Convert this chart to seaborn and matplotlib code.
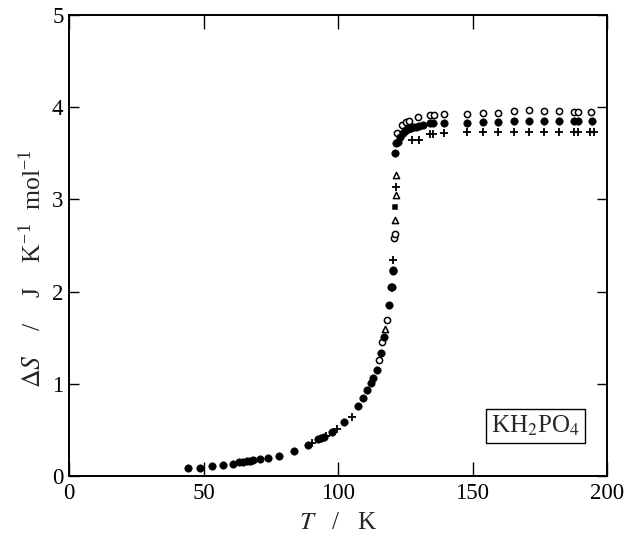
import matplotlib
matplotlib.use("Agg")
import matplotlib.pyplot as plt
import seaborn as sns
import pandas as pd

# ---------------------------------------------------------------------------
# data (T in K, dS in J K-1 mol-1)

T_filled = [44.1, 48.7, 53.3, 57.1, 60.8, 63.3, 64.8, 66.0, 67.2, 68.3, 71.0,
            74.1, 78.0, 83.8, 88.7, 92.5, 93.6, 94.8, 97.6, 102.3, 107.5,
            109.4, 110.9, 112.3, 113.1, 114.4, 115.9, 117.1, 119.1, 119.7,
            120.0, 120.3, 120.6, 121.2, 121.6, 122.3, 123.0, 124.0, 125.0,
            126.0, 127.0, 128.0, 129.0, 130.0, 131.5, 134.2, 135.4, 139.4,
            147.8, 153.8, 159.6, 165.4, 171.1, 176.6, 182.3, 187.7, 189.3,
            194.5]
S_filled = [0.09, 0.09, 0.11, 0.12, 0.13, 0.15, 0.155, 0.16, 0.165, 0.17, 0.18,
            0.20, 0.22, 0.27, 0.34, 0.40, 0.41, 0.42, 0.48, 0.59, 0.76,
            0.85, 0.93, 1.01, 1.06, 1.15, 1.33, 1.51, 1.85, 2.05,
            2.05, 2.23, 2.22, 3.50, 3.61, 3.62, 3.68, 3.72, 3.74,
            3.76, 3.77, 3.78, 3.79, 3.80, 3.81, 3.83, 3.83, 3.83,
            3.83, 3.84, 3.84, 3.85, 3.85, 3.85, 3.85, 3.85, 3.85,
            3.85]

T_open = [115.2, 116.4, 118.3, 120.8, 121.0, 122.1, 123.7, 125.3, 126.5,
          129.9, 134.2, 135.7, 139.5, 147.8, 153.8, 159.6, 165.4, 171.1,
          176.6, 182.3, 187.7, 189.3, 194.2]
S_open = [1.26, 1.45, 1.69, 2.58, 2.62, 3.72, 3.81, 3.84, 3.85,
          3.89, 3.92, 3.92, 3.93, 3.93, 3.94, 3.94, 3.96, 3.97,
          3.96, 3.96, 3.95, 3.95, 3.95]

T_plus = [90.2, 95.5, 99.7, 105.1, 120.6, 121.6, 127.6, 130.1, 134.2, 135.4,
          139.4, 147.8, 153.8, 159.6, 165.4, 171.1, 176.6, 182.3, 187.7,
          189.3, 193.7, 195.3]
S_plus = [0.36, 0.43, 0.51, 0.64, 2.34, 3.13, 3.64, 3.64, 3.71, 3.71,
          3.72, 3.73, 3.73, 3.73, 3.73, 3.73, 3.73, 3.73, 3.73,
          3.73, 3.73, 3.73]

T_tri = [117.6, 121.2, 121.6, 121.6]
S_tri = [1.59, 2.78, 3.05, 3.26]

T_square = [121.2]
S_square = [2.92]

x_ticks = [0, 50, 100, 150, 200]
y_ticks = [0, 1, 2, 3, 4, 5]

# ---------------------------------------------------------------------------

sns.set_style("ticks")
plt.rcParams['font.family'] = ['Liberation Serif', 'DejaVu Serif']
plt.rcParams['mathtext.fontset'] = 'stix'

fig = plt.figure(figsize=(6.24, 5.39), dpi=100)
ax = fig.add_axes([0.1106, 0.1169, 0.8622, 0.8553])

df_filled = pd.DataFrame({"T": T_filled, "S": S_filled})
df_open = pd.DataFrame({"T": T_open, "S": S_open})
df_plus = pd.DataFrame({"T": T_plus, "S": S_plus})
df_tri = pd.DataFrame({"T": T_tri, "S": S_tri})
df_sq = pd.DataFrame({"T": T_square, "S": S_square})

sns.scatterplot(data=df_open, x="T", y="S", ax=ax, marker="o", s=20,
                facecolor="white", edgecolor="black", linewidth=1.1, zorder=3)
sns.scatterplot(data=df_filled, x="T", y="S", ax=ax, marker="o", s=28,
                color="black", edgecolor="black", linewidth=0.5, zorder=4)
sns.scatterplot(data=df_plus, x="T", y="S", ax=ax, marker="+", s=34,
                color="black", linewidth=1.3, zorder=4)
sns.scatterplot(data=df_tri, x="T", y="S", ax=ax, marker="^", s=20,
                facecolor="white", edgecolor="black", linewidth=1.1, zorder=4)
sns.scatterplot(data=df_sq, x="T", y="S", ax=ax, marker="s", s=20,
                color="black", zorder=4)

ax.set_xlim(0, 200)
ax.set_ylim(0, 5)
ax.set_xticks(x_ticks)
ax.set_yticks(y_ticks)
ax.tick_params(axis='both', direction='in', top=True, right=True,
               width=1.0, labelsize=16.5, colors='black')
ax.tick_params(axis='x', length=10, pad=5)
ax.tick_params(axis='y', length=7, pad=4)
for sp in ax.spines.values():
    sp.set_linewidth(1.4)
    sp.set_color('black')

ax.set_xlabel(r'$T$   /   K', fontsize=18, labelpad=6)
ax.set_ylabel(r'$\Delta S$    /    J    K$^{\mathregular{-1}}$  mol$^{\mathregular{-1}}$',
              fontsize=18.5)
ax.yaxis.set_label_coords(-0.043, 0.45)

ax.text(173.4, 0.54, r'KH$_2$PO$_4$', fontsize=18, ha='center', va='center',
        bbox=dict(boxstyle='square,pad=0.2', facecolor='white',
                  edgecolor='black', linewidth=1.0))

fig.savefig("out.png", dpi=100)
